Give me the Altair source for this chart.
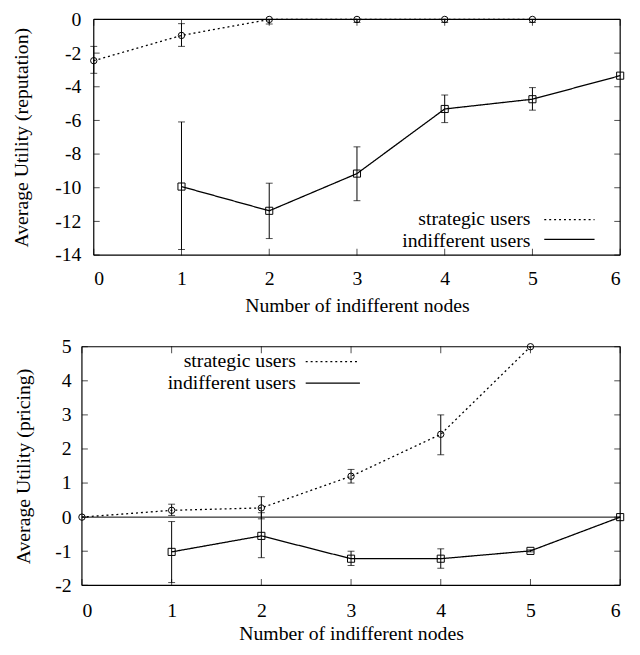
import altair as alt
import pandas as pd

FONT = "Liberation Serif, Times New Roman, Times, serif"
FS = 20

# ---------------- data ----------------
x_ticks = [0, 1, 2, 3, 4, 5, 6]
legend_labels = ["strategic users", "indifferent users"]
x_title = "Number of indifferent nodes"

# top panel (reputation)
rep_y_ticks = [0, -2, -4, -6, -8, -10, -12, -14]
rep_strat_x = [0, 1, 2, 3, 4, 5]
rep_strat_y = [-2.45, -0.95, 0.0, 0.0, 0.0, 0.0]
rep_strat_lo = [-3.2, -1.6, -0.27, -0.18, -0.18, -0.18]
rep_strat_hi = [-1.6, -0.25, 0.0, 0.0, 0.0, 0.0]
rep_ind_x = [1, 2, 3, 4, 5, 6]
rep_ind_y = [-9.93, -11.37, -9.16, -5.32, -4.74, -3.34]
rep_ind_lo = [-13.67, -13.02, -10.77, -6.13, -5.39, -3.34]
rep_ind_hi = [-6.09, -9.73, -7.57, -4.49, -4.05, -3.34]

# bottom panel (pricing)
pri_y_ticks = [-2, -1, 0, 1, 2, 3, 4, 5]
pri_strat_x = [0, 1, 2, 3, 4, 5]
pri_strat_y = [0.0, 0.2, 0.27, 1.2, 2.43, 5.0]
pri_strat_lo = [0.0, 0.05, -0.05, 1.0, 1.83, 5.0]
pri_strat_hi = [0.0, 0.38, 0.6, 1.4, 3.0, 5.0]
pri_ind_x = [1, 2, 3, 4, 5, 6]
pri_ind_y = [-1.02, -0.55, -1.22, -1.22, -0.99, 0.0]
pri_ind_lo = [-1.92, -1.19, -1.42, -1.5, -1.02, 0.0]
pri_ind_hi = [-0.13, 0.13, -1.0, -0.93, -0.96, 0.0]


def series_df(xs, ys, lo, hi, name):
    return pd.DataFrame({"x": xs, "y": ys, "lo": lo, "hi": hi, "series": name})


def panel(W, H, shift, ydom, yticks, ytitle, sx, sy, slo, shi, ix, iy, ilo, ihi,
          lab_pad, tit_pad, ylab_pad, ytit_pad, leg, zero_line):
    # shift: the frame starts `shift` px left of the group origin
    xs = alt.Scale(domain=[0, 6], range=[-shift, W], nice=False, zero=False)
    ys = alt.Scale(domain=ydom, nice=False, zero=False)
    xaxis = alt.Axis(values=x_ticks, title=x_title, domain=False, ticks=False,
                     tickSize=0, grid=False, labelPadding=lab_pad, titlePadding=tit_pad,
                     labelFont=FONT, labelFontSize=FS, labelColor="black",
                     titleFont=FONT, titleFontSize=FS, titleFontWeight="normal",
                     titleColor="black", labelExpr="datum.value + ''")
    yaxis = alt.Axis(values=yticks, title=ytitle, domain=False, ticks=False,
                     tickSize=0, grid=False, labelPadding=ylab_pad,
                     titlePadding=ytit_pad, offset=shift,
                     labelFont=FONT, labelFontSize=FS, labelColor="black",
                     titleFont=FONT, titleFontSize=FS, titleFontWeight="normal",
                     titleColor="black", labelExpr="datum.value + ''")

    def X(f):
        return alt.X(f, type="quantitative", scale=xs, axis=xaxis)

    def Y(f):
        return alt.Y(f, type="quantitative", scale=ys, axis=yaxis)

    strat = series_df(sx, sy, slo, shi, legend_labels[0])
    ind = series_df(ix, iy, ilo, ihi, legend_labels[1])
    one = pd.DataFrame({"k": [0]})

    layers = []
    # frame
    for a in (-shift, W):
        layers.append(alt.Chart(one).mark_rule(color="black", strokeWidth=1.2).encode(
            x=alt.value(a), y=alt.value(0), y2=alt.value(H)))
    for yy in (0, H):
        layers.append(alt.Chart(one).mark_rule(color="black", strokeWidth=1.2).encode(
            x=alt.value(-shift), x2=alt.value(W), y=alt.value(yy)))

    if zero_line:
        layers.append(alt.Chart(pd.DataFrame({"z": [0]})).mark_rule(
            color="black", strokeWidth=1).encode(
            y=Y("z"), x=alt.value(-shift), x2=alt.value(W)))

    # inward ticks on all four sides
    ytdf = pd.DataFrame({"t": yticks})
    xtdf = pd.DataFrame({"t": x_ticks})
    for px in (-shift + 3, W - 3):
        layers.append(alt.Chart(ytdf).mark_tick(
            orient="horizontal", size=6, thickness=1, color="black").encode(
            y=Y("t"), x=alt.value(px)))
    for py in (3, H - 3):
        layers.append(alt.Chart(xtdf).mark_tick(
            orient="vertical", size=7, thickness=1, color="black").encode(
            x=X("t"), y=alt.value(py)))

    for df, dash, shape, size in ((strat, [2, 3], "circle", 42),
                                  (ind, [1, 0], "square", 52)):
        base = alt.Chart(df)
        err = base.transform_filter("datum.hi > datum.lo")
        layers.append(err.mark_rule(color="black", strokeWidth=1).encode(
            x=X("x"), y=Y("lo"), y2="hi"))
        layers.append(err.mark_tick(orient="horizontal", size=7, thickness=1,
                                    color="black").encode(x=X("x"), y=Y("lo")))
        layers.append(err.mark_tick(orient="horizontal", size=7, thickness=1,
                                    color="black").encode(x=X("x"), y=Y("hi")))
        layers.append(base.mark_line(color="black", strokeWidth=1.3,
                                     strokeDash=dash).encode(x=X("x"), y=Y("y")))
        layers.append(base.mark_point(shape=shape, filled=False, size=size,
                                      color="black", strokeWidth=1,
                                      opacity=1).encode(x=X("x"), y=Y("y")))

    # legend: text, then a line sample to its right
    tx, lx1, lx2, ty1, ty2, ly1, ly2 = leg
    layers.append(alt.Chart(one).mark_text(
        align="right", baseline="alphabetic", font=FONT, fontSize=FS,
        color="black").encode(x=alt.value(tx), y=alt.value(ty1),
                              text=alt.value(legend_labels[0])))
    layers.append(alt.Chart(one).mark_text(
        align="right", baseline="alphabetic", font=FONT, fontSize=FS,
        color="black").encode(x=alt.value(tx), y=alt.value(ty2),
                              text=alt.value(legend_labels[1])))
    layers.append(alt.Chart(one).mark_rule(
        color="black", strokeWidth=1.3, strokeDash=[2, 3]).encode(
        x=alt.value(lx1), x2=alt.value(lx2), y=alt.value(ly1)))
    layers.append(alt.Chart(one).mark_rule(
        color="black", strokeWidth=1.3).encode(
        x=alt.value(lx1), x2=alt.value(lx2), y=alt.value(ly2)))

    return alt.layer(*layers).properties(width=W, height=H)


W1, H1 = 534, 239
W2, H2, S2 = 534, 242, 12

top = panel(W1, H1, 0, [-14, 0], rep_y_ticks, "Average Utility (reputation)",
            rep_strat_x, rep_strat_y, rep_strat_lo, rep_strat_hi,
            rep_ind_x, rep_ind_y, rep_ind_lo, rep_ind_hi,
            14, 7, 13, 24,
            (W1 - 91, W1 - 77, W1 - 26, H1 - 30, H1 - 8, H1 - 36, H1 - 16),
            False)
bottom = panel(W2, H2, S2, [-2, 5], pri_y_ticks, "Average Utility (pricing)",
               pri_strat_x, pri_strat_y, pri_strat_lo, pri_strat_hi,
               pri_ind_x, pri_ind_y, pri_ind_lo, pri_ind_hi,
               16, 3, 11, 22,
               (205, 215, 270, 21, 43, 15, 37),
               True)

chart = alt.vconcat(top, bottom, spacing=22).properties(
    padding={"left": 3, "top": -3, "right": 0, "bottom": 0}
).configure_view(stroke="transparent", strokeWidth=0)

chart.save("out.html", embed_options={"renderer": "svg", "actions": False})
